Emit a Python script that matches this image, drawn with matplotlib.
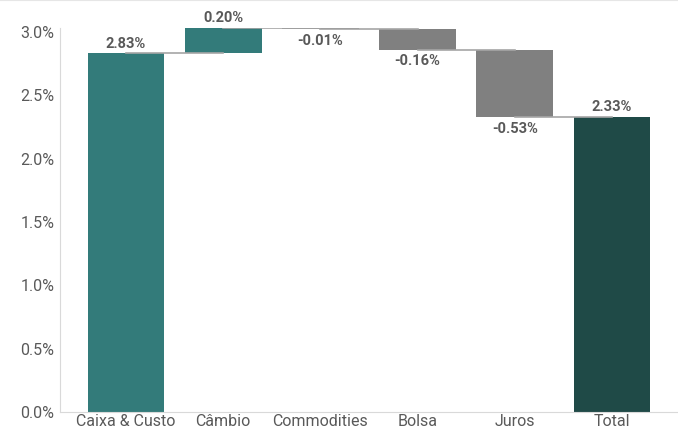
import matplotlib
matplotlib.use("Agg")
import matplotlib.pyplot as plt
from matplotlib.lines import Line2D

categories = ["Caixa & Custo", "Câmbio", "Commodities", "Bolsa", "Juros", "Total"]
values = [2.83, 0.20, -0.01, -0.16, -0.53, 2.33]
labels = ["2.83%", "0.20%", "-0.01%", "-0.16%", "-0.53%", "2.33%"]
yticks = [0.0, 0.5, 1.0, 1.5, 2.0, 2.5, 3.0]
ytick_labels = ["0.0%", "0.5%", "1.0%", "1.5%", "2.0%", "2.5%", "3.0%"]

plt.rcParams['font.family'] = ['Roboto', 'DejaVu Sans']

fig = plt.figure(figsize=(6.78, 4.30), dpi=100)
ax = fig.add_axes([60/678, 18/430, 618/678, (412-28)/430])

teal = "#337B7A"
dark = "#1F4A47"
grey = "#808080"
txt = "#595959"

n = len(values)
bottoms, heights, colors, levels = [], [], [], []
cum = 0.0
for i, v in enumerate(values):
    if i == 0:
        b, h, c = 0, v, teal
        cum = v
    elif i == n - 1:
        b, h, c = 0, v, dark
        cum = v
    else:
        if v >= 0:
            b, h, c = cum, v, teal
        else:
            b, h, c = cum + v, -v, grey
        cum += v
    bottoms.append(b); heights.append(h); colors.append(c); levels.append(cum)

x = list(range(n))
ax.bar(x, heights, bottom=bottoms, width=0.79, color=colors, zorder=2)

for i in range(n - 1):
    ax.plot([x[i], x[i + 1]], [levels[i], levels[i]], color="#A6A6A6", lw=1.2, zorder=3)

for i, v in enumerate(values):
    if v >= 0 or i == n - 1:
        ax.annotate(labels[i], (x[i], bottoms[i] + heights[i]), xytext=(0, 2),
                    textcoords="offset points", ha="center", va="bottom",
                    fontsize=10.5, fontweight="bold", color=txt)
    else:
        ax.annotate(labels[i], (x[i], bottoms[i]), xytext=(0, -3.5),
                    textcoords="offset points", ha="center", va="top",
                    fontsize=10.5, fontweight="bold", color=txt)

ax.set_xlim(-0.68, n - 1 + 0.68)
ax.set_ylim(0, 3.03)
ax.set_yticks(yticks)
ax.set_yticklabels(ytick_labels)
ax.set_xticks(x)
ax.set_xticklabels(categories)
ax.tick_params(axis="both", length=0, labelsize=11.5, colors=txt)
ax.tick_params(axis="y", pad=4)
ax.tick_params(axis="x", pad=1.5)
for s in ["top", "right"]:
    ax.spines[s].set_visible(False)
ax.spines["left"].set_color("#D9D9D9")
ax.spines["bottom"].set_color("#D9D9D9")

fig.add_artist(Line2D([0, 1], [0.999, 0.999], transform=fig.transFigure, color="#E6E6E6", lw=1.5))

fig.savefig("out.png", dpi=100, facecolor="white")
